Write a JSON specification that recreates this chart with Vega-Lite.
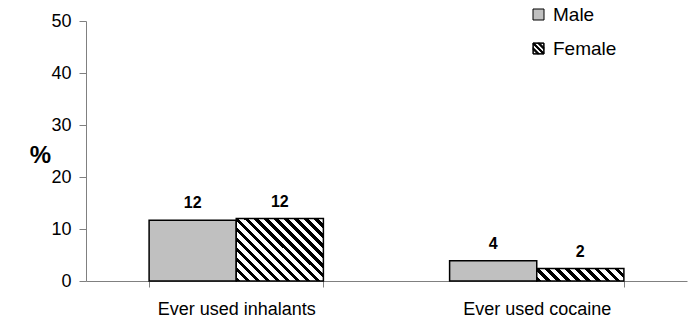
{
  "$schema": "https://vega.github.io/schema/vega-lite/v6.json",
  "width": 601,
  "height": 260,
  "autosize": "none",
  "padding": {"left": 86, "top": 21, "right": 7, "bottom": 40},
  "background": "white",
  "config": {"view": {"stroke": null}, "font": "Liberation Sans"},
  "data": {"values": [
    {"item": "Ever used inhalants", "sex": "Male", "pct": 11.7},
    {"item": "Ever used inhalants", "sex": "Female", "pct": 12.0},
    {"item": "Ever used cocaine", "sex": "Male", "pct": 3.9},
    {"item": "Ever used cocaine", "sex": "Female", "pct": 2.4}
  ]},
  "encoding": {
    "x": {"field": "item", "type": "nominal", "sort": ["Ever used inhalants", "Ever used cocaine"],
      "scale": {"paddingInner": 0.42, "paddingOuter": 0.21},
      "axis": {"title": null, "labelAngle": 0, "labelFont": "Liberation Sans", "labelFontSize": 18, "labelColor": "black",
        "domainColor": "#808080", "tickColor": "#808080", "tickBand": "extent", "tickSize": 6, "labelPadding": 13, "labelBaseline": "top"}},
    "xOffset": {"field": "sex", "type": "nominal", "sort": ["Male", "Female"]},
    "y": {"field": "pct", "type": "quantitative", "scale": {"domain": [0, 50]},
      "axis": {"values": [0, 10, 20, 30, 40, 50], "grid": false, "title": "%", "titleAngle": 0, "titleFontSize": 24,
        "titleFontWeight": "bold", "titleFont": "Liberation Sans", "titleX": -46, "titleY": 134, "titleAlign": "center",
        "titleBaseline": "middle", "titleColor": "black", "labelFontSize": 18, "labelColor": "black", "labelFont": "Liberation Sans",
        "domainColor": "#808080", "tickColor": "#808080", "tickSize": 7, "labelPadding": 8}}
  },
  "layer": [
    {
      "mark": {"type": "bar", "stroke": "black", "strokeWidth": 1.5},
      "encoding": {
        "fill": {"field": "sex", "type": "nominal",
          "scale": {"domain": ["Male", "Female"], "range": ["#c0c0c0", "black"]},
          "legend": {"orient": "none", "legendX": 443, "legendY": -16, "title": null, "symbolSize": 121, "symbolOpacity": 1,
            "symbolStrokeColor": "black", "symbolStrokeWidth": 1,
            "labelFontSize": 19, "labelFont": "Liberation Sans", "labelColor": "black",
            "rowPadding": 14, "labelOffset": 5, "padding": 0,
            "encode": {"symbols": {"update": {"stroke": {"value": "black"}, "opacity": {"value": 1}}}}},
          "condition": [
            {"test": "datum.sex === 'Female' && datum.item === 'Ever used inhalants'", "value": {"gradient": "linear", "x1": 0, "y1": 1, "x2": 1.134, "y2": 0.187, "stops": [
              {"offset": 0, "color": "black"}, {"offset": 0.03, "color": "black"}, {"offset": 0.03, "color": "white"},
              {"offset": 0.0667, "color": "white"}, {"offset": 0.0667, "color": "black"}, {"offset": 0.0967, "color": "black"}, {"offset": 0.0967, "color": "white"},
              {"offset": 0.1333, "color": "white"}, {"offset": 0.1333, "color": "black"}, {"offset": 0.1633, "color": "black"}, {"offset": 0.1633, "color": "white"},
              {"offset": 0.2, "color": "white"}, {"offset": 0.2, "color": "black"}, {"offset": 0.23, "color": "black"}, {"offset": 0.23, "color": "white"},
              {"offset": 0.2667, "color": "white"}, {"offset": 0.2667, "color": "black"}, {"offset": 0.2967, "color": "black"}, {"offset": 0.2967, "color": "white"},
              {"offset": 0.3333, "color": "white"}, {"offset": 0.3333, "color": "black"}, {"offset": 0.3633, "color": "black"}, {"offset": 0.3633, "color": "white"},
              {"offset": 0.4, "color": "white"}, {"offset": 0.4, "color": "black"}, {"offset": 0.43, "color": "black"}, {"offset": 0.43, "color": "white"},
              {"offset": 0.4667, "color": "white"}, {"offset": 0.4667, "color": "black"}, {"offset": 0.4967, "color": "black"}, {"offset": 0.4967, "color": "white"},
              {"offset": 0.5333, "color": "white"}, {"offset": 0.5333, "color": "black"}, {"offset": 0.5633, "color": "black"}, {"offset": 0.5633, "color": "white"},
              {"offset": 0.6, "color": "white"}, {"offset": 0.6, "color": "black"}, {"offset": 0.63, "color": "black"}, {"offset": 0.63, "color": "white"},
              {"offset": 0.6667, "color": "white"}, {"offset": 0.6667, "color": "black"}, {"offset": 0.6967, "color": "black"}, {"offset": 0.6967, "color": "white"},
              {"offset": 0.7333, "color": "white"}, {"offset": 0.7333, "color": "black"}, {"offset": 0.7633, "color": "black"}, {"offset": 0.7633, "color": "white"},
              {"offset": 0.8, "color": "white"}, {"offset": 0.8, "color": "black"}, {"offset": 0.83, "color": "black"}, {"offset": 0.83, "color": "white"},
              {"offset": 0.8667, "color": "white"}, {"offset": 0.8667, "color": "black"}, {"offset": 0.8967, "color": "black"}, {"offset": 0.8967, "color": "white"},
              {"offset": 0.9333, "color": "white"}, {"offset": 0.9333, "color": "black"}, {"offset": 0.9633, "color": "black"}, {"offset": 0.9633, "color": "white"},
              {"offset": 1, "color": "white"}]}},
            {"test": "datum.sex === 'Female' && datum.item === 'Ever used cocaine'", "value": {"gradient": "linear", "x1": 0, "y1": 1, "x2": 1.1205, "y2": 0.8394, "stops": [
              {"offset": 0, "color": "black"}, {"offset": 0.045, "color": "black"}, {"offset": 0.045, "color": "white"},
              {"offset": 0.1, "color": "white"}, {"offset": 0.1, "color": "black"}, {"offset": 0.145, "color": "black"}, {"offset": 0.145, "color": "white"},
              {"offset": 0.2, "color": "white"}, {"offset": 0.2, "color": "black"}, {"offset": 0.245, "color": "black"}, {"offset": 0.245, "color": "white"},
              {"offset": 0.3, "color": "white"}, {"offset": 0.3, "color": "black"}, {"offset": 0.345, "color": "black"}, {"offset": 0.345, "color": "white"},
              {"offset": 0.4, "color": "white"}, {"offset": 0.4, "color": "black"}, {"offset": 0.445, "color": "black"}, {"offset": 0.445, "color": "white"},
              {"offset": 0.5, "color": "white"}, {"offset": 0.5, "color": "black"}, {"offset": 0.545, "color": "black"}, {"offset": 0.545, "color": "white"},
              {"offset": 0.6, "color": "white"}, {"offset": 0.6, "color": "black"}, {"offset": 0.645, "color": "black"}, {"offset": 0.645, "color": "white"},
              {"offset": 0.7, "color": "white"}, {"offset": 0.7, "color": "black"}, {"offset": 0.745, "color": "black"}, {"offset": 0.745, "color": "white"},
              {"offset": 0.8, "color": "white"}, {"offset": 0.8, "color": "black"}, {"offset": 0.845, "color": "black"}, {"offset": 0.845, "color": "white"},
              {"offset": 0.9, "color": "white"}, {"offset": 0.9, "color": "black"}, {"offset": 0.945, "color": "black"}, {"offset": 0.945, "color": "white"},
              {"offset": 1, "color": "white"}]}}
          ]
        }
      }
    },
    {
      "mark": {"type": "point", "filled": true, "opacity": 0, "size": 121},
      "encoding": {
        "fill": {"field": "sex", "type": "nominal",
          "scale": {"domain": ["Male", "Female"], "range": ["#c0c0c0", "black"]},
          "legend": {"orient": "none", "legendX": 443, "legendY": -16, "title": null, "symbolSize": 121, "symbolOpacity": 1,
            "symbolStrokeColor": "black", "symbolStrokeWidth": 1,
            "labelFontSize": 19, "labelFont": "Liberation Sans", "labelColor": "black",
            "rowPadding": 14, "labelOffset": 5, "padding": 0,
            "encode": {"symbols": {"update": {"stroke": {"value": "black"}, "opacity": {"value": 1}}}}}},
        "shape": {"field": "sex", "type": "nominal",
          "scale": {"domain": ["Male", "Female"], "range": ["square", "M-1,-1H1V1H-1Z M-0.96,-0.96V0.96H0.96V-0.96Z M-0.96,-0.96L-0.76,-0.96L0.96,0.76L0.96,0.96L0.76,0.96L-0.96,-0.76Z M-0.16,-0.96L0.24,-0.96L0.96,-0.24L0.96,0.16Z M-0.96,-0.16L-0.96,0.24L-0.24,0.96L0.16,0.96Z"]},
          "legend": {"orient": "none", "legendX": 443, "legendY": -16, "title": null, "symbolSize": 121, "symbolOpacity": 1,
            "symbolStrokeColor": "black", "symbolStrokeWidth": 1,
            "labelFontSize": 19, "labelFont": "Liberation Sans", "labelColor": "black",
            "rowPadding": 14, "labelOffset": 5, "padding": 0,
            "encode": {"symbols": {"update": {"stroke": {"value": "black"}, "opacity": {"value": 1}}}}}}
      }
    },
    {
      "mark": {"type": "text", "font": "Liberation Sans", "fontWeight": "bold", "fontSize": 16, "dy": -17, "baseline": "middle", "color": "black"},
      "encoding": {"text": {"field": "pct", "type": "quantitative", "format": ".0f"}}
    }
  ]
}
